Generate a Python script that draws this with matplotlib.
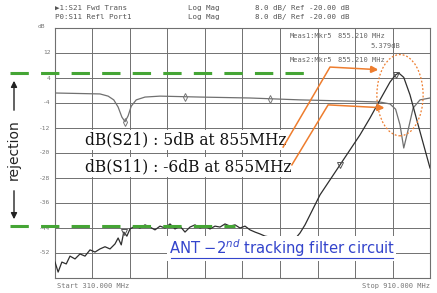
import matplotlib
matplotlib.use("Agg")
import matplotlib.pyplot as plt
import matplotlib.transforms as mtransforms
from matplotlib.patches import Ellipse, FancyArrowPatch
import numpy as np

# ---- data (MHz, dB) ----
s21_freq = [310, 315, 321, 328, 334, 342, 350, 358, 366, 374, 382, 390, 398, 406, 411, 416, 420, 425,
            430, 438, 446, 454, 462, 470, 478, 486, 494, 502, 510, 518, 526, 534, 542, 550, 558, 566,
            574, 582, 590, 598, 606, 614, 622, 630, 638, 646, 654, 662, 670, 678, 686, 694, 702, 710,
            718, 726, 734, 750, 766, 782, 798, 814, 830, 846, 855, 860, 868, 878, 891, 902, 910]
s21_db = [-54.9, -58.1, -54.9, -55.5, -53.0, -53.9, -52.3, -53.0, -51.0, -51.7, -50.7, -50.0, -50.7,
          -49.1, -47.2, -49.4, -45.3, -46.6, -44.3, -43.4, -44.0, -43.0, -43.7, -44.6, -43.4, -44.0,
          -42.7, -44.3, -43.4, -45.3, -43.7, -43.0, -44.0, -43.4, -44.3, -43.4, -43.7, -42.7, -43.4,
          -43.0, -44.0, -43.4, -44.6, -45.3, -45.9, -46.6, -46.9, -47.5, -47.8, -48.2, -48.2, -47.5,
          -45.6, -43.0, -39.8, -36.6, -33.4, -28.6, -23.8, -19.0, -14.2, -8.8, -3.0, 2.7, 5.0, 5.6,
          4.2, -1.4, -11.0, -19.0, -24.8]

s11_freq = [310, 382, 395, 404, 411, 417, 422, 427, 432, 440, 454, 478, 542, 622, 702, 782, 830,
            846, 855, 862, 868, 875, 883, 894, 910]
s11_db = [-0.8, -1.1, -1.8, -3.0, -5.3, -8.5, -10.0, -8.1, -5.0, -3.0, -2.1, -1.8, -2.1, -2.4, -3.0,
          -3.4, -3.7, -4.3, -6.0, -11.0, -18.4, -12.6, -5.6, -3.0, -2.4]

start_mhz, stop_mhz = 310, 910
ref_top, ref_bottom = 20, -60
ytick_vals = [12, 4, -4, -12, -20, -28, -36, -44, -52]
ytick_labels = ["12", "4", "-4", "-12", "-20", "-28", "-36", "-44", "-52"]
green_levels = [5.5, -43.5]

W, H = 437, 293
fig = plt.figure(figsize=(W / 100, H / 100), dpi=100)
fig.patch.set_facecolor("white")


def fx(px):
    return px / W


def fy(py):
    return 1 - py / H


ax = fig.add_axes([fx(55), fy(278), fx(430) - fx(55), fy(28) - fy(278)])
ax.set_xlim(start_mhz, stop_mhz)
ax.set_ylim(ref_bottom, ref_top)
ax.set_xticks(np.linspace(start_mhz, stop_mhz, 11))
ax.set_yticks(np.linspace(ref_bottom, ref_top, 11))
ax.grid(True, color="#707070", lw=0.7)
ax.tick_params(length=0, labelbottom=False, labelleft=False)
for s in ax.spines.values():
    s.set_color("#707070")
    s.set_linewidth(0.8)

# traces
ax.plot(s11_freq, s11_db, color="#707070", lw=0.9, zorder=3)
ax.plot(s21_freq, s21_db, color="#2e2e2e", lw=0.9, zorder=4)
# a few marker symbols
ax.plot([422, 518, 654], [-10, -2.1, -2.7], ls="none", marker="d", ms=4, mfc="none",
        mec="#777777", mew=0.7, zorder=5)
ax.plot([420, 766, 855], [-45.3, -23.8, 5.0], ls="none", marker="v", ms=4, mfc="none",
        mec="#555555", mew=0.7, zorder=5)

# y tick labels
for v, lab in zip(ytick_vals, ytick_labels):
    ax.text(-0.012, (v - ref_bottom) / (ref_top - ref_bottom), lab, transform=ax.transAxes,
            ha="right", va="center", fontsize=4.5, color="#777777", family="DejaVu Sans Mono")
fig.text(fx(38), fy(27), "dB", fontsize=4.5, color="#777777", va="center",
         family="DejaVu Sans Mono")

# header lines
hdr_kw = dict(fontsize=5.4, color="#555555", family="DejaVu Sans Mono", va="center")
fig.text(fx(55), fy(8), "\u25b61:S21 Fwd Trans", **hdr_kw)
fig.text(fx(188), fy(8), "Log Mag", **hdr_kw)
fig.text(fx(255), fy(8), "8.0 dB/ Ref -20.00 dB", **hdr_kw)
fig.text(fx(55), fy(17), "P0:S11 Refl Port1", **hdr_kw)
fig.text(fx(188), fy(17), "Log Mag", **hdr_kw)
fig.text(fx(255), fy(17), "8.0 dB/ Ref -20.00 dB", **hdr_kw)

# marker readouts
mk_kw = dict(fontsize=5.0, color="#666666", family="DejaVu Sans Mono", va="center")
fig.text(fx(290), fy(36), "Meas1:Mkr5", **mk_kw)
fig.text(fx(338), fy(36), "855.210 MHz", **mk_kw)
fig.text(fx(370), fy(46), "5.379dB", **mk_kw)
fig.text(fx(290), fy(60), "Meas2:Mkr5", **mk_kw)
fig.text(fx(338), fy(60), "855.210 MHz", **mk_kw)

# start / stop
fig.text(fx(57), fy(286), "Start 310.000 MHz", fontsize=5.0, color="#777777",
         family="DejaVu Sans Mono", va="center")
fig.text(fx(430), fy(286), "Stop 910.000 MHz", fontsize=5.0, color="#777777",
         family="DejaVu Sans Mono", va="center", ha="right")

# green dashed rejection lines
bt = mtransforms.blended_transform_factory(fig.transFigure, ax.transData)
ax.plot([fx(10), fx(305)], [green_levels[0]] * 2, transform=bt, color="#45a535", lw=2.2,
        dashes=(6, 4), clip_on=False, zorder=6)
ax.plot([fx(10), fx(235)], [green_levels[1]] * 2, transform=bt, color="#45a535", lw=2.2,
        dashes=(6, 4), clip_on=False, zorder=6)

# annotation texts
txt_kw = dict(fontsize=11.2, family="DejaVu Serif", color="#111111", va="center", zorder=7,
              bbox=dict(boxstyle="square,pad=0.1", fc="white", ec="none"))
ax.text(358, -15.8, "dB(S21) : 5dB at 855MHz", **txt_kw)
ax.text(358, -24.4, "dB(S11) : -6dB at 855MHz", **txt_kw)

# orange leader lines
orange = "#ee7d2e"
ax.plot([675, 750, 815], [-18.1, 7.5, 6.8], color=orange, lw=1.1, zorder=8)
ax.annotate("", xy=(832, 6.6), xytext=(812, 6.8),
            arrowprops=dict(arrowstyle="-|>", color=orange, lw=1.6, mutation_scale=9), zorder=8)
ax.plot([689, 747, 822], [-23.8, -4.6, -5.4], color=orange, lw=1.1, zorder=8)
ax.annotate("", xy=(842, -5.6), xytext=(820, -5.4),
            arrowprops=dict(arrowstyle="-|>", color=orange, lw=1.6, mutation_scale=9), zorder=8)
ax.add_patch(Ellipse((862, -1.5), 74, 26, fill=False, ec=orange, lw=0.9, ls=(0, (1.5, 1.5)),
                     zorder=8))

# caption
cap = ax.text(492, -50.5, "ANT \u22122$^{nd}$ tracking filter circuit", fontsize=10.6,
              family="DejaVu Sans", color="#3344cc", va="center", zorder=7,
              bbox=dict(boxstyle="square,pad=0.1", fc="white", ec="none"))

# rejection label with arrows
fig.text(fx(14), fy(150), "rejection", rotation=90, fontsize=10, color="#222222",
         ha="center", va="center")
fig.patches.append(FancyArrowPatch((fx(14), fy(113)), (fx(14), fy(78)), transform=fig.transFigure,
                                   arrowstyle="-|>", mutation_scale=9, color="#222222", lw=1.0))
fig.patches.append(FancyArrowPatch((fx(14), fy(188)), (fx(14), fy(222)), transform=fig.transFigure,
                                   arrowstyle="-|>", mutation_scale=9, color="#222222", lw=1.0))

# underline caption
fig.canvas.draw()
bb = cap.get_window_extent(renderer=fig.canvas.get_renderer())
inv = fig.transFigure.inverted()
(x0, y0), (x1, y1) = inv.transform([(bb.x0 + 2, bb.y0 + 1), (bb.x1 - 2, bb.y0 + 1)])
fig.add_artist(plt.Line2D([x0, x1], [y0, y1], transform=fig.transFigure, color="#3344cc", lw=0.8))

fig.savefig("out.png", dpi=100, facecolor="white")
